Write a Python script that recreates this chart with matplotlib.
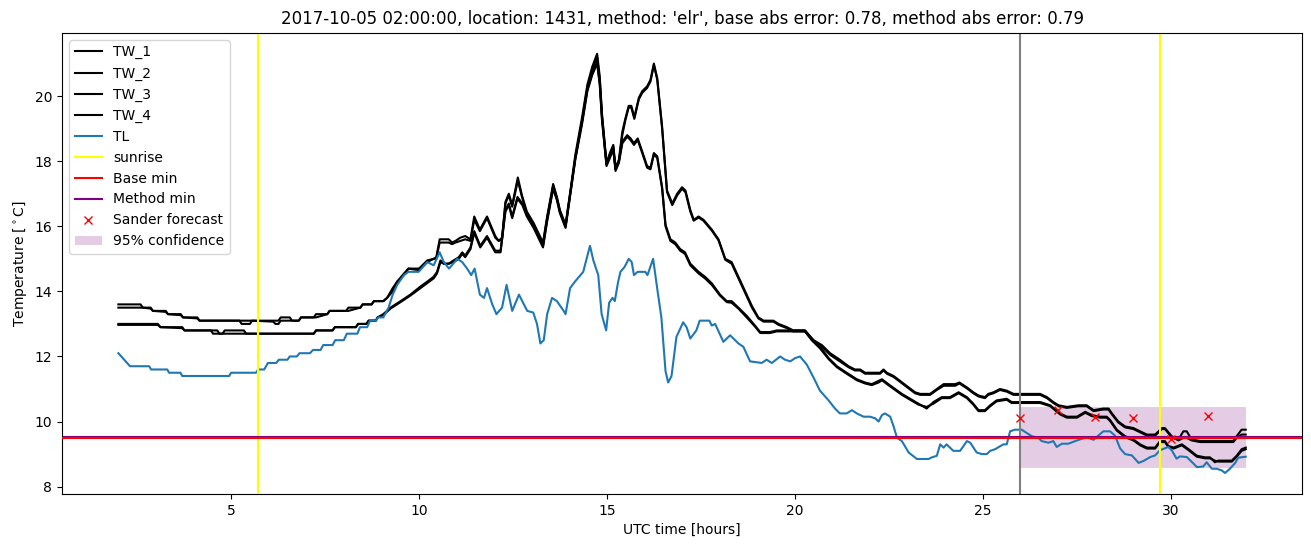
import numpy as np
import matplotlib
matplotlib.use('Agg')
import matplotlib.pyplot as plt

title = "2017-10-05 02:00:00, location: 1431, method: 'elr', base abs error: 0.78, method abs error: 0.79"

# road sensors, two pairs: (hour, TW_1, TW_2) and (hour, TW_3, TW_4)
tw_a = np.array([
    (2.00, 13.6, 13.5), (2.59, 13.6, 13.5), (2.65, 13.5, 13.5), (2.86, 13.5, 13.47),
    (2.92, 13.4, 13.4), (3.26, 13.4, 13.37), (3.32, 13.3, 13.3), (3.66, 13.3, 13.27),
    (3.72, 13.2, 13.2), (4.10, 13.2, 13.17), (4.16, 13.1, 13.1), (5.22, 13.1, 13.1),
    (5.28, 13.1, 13.0), (5.50, 13.1, 13.0), (5.56, 13.1, 13.1), (6.12, 13.1, 13.07),
    (6.18, 13.1, 13.0), (6.26, 13.1, 13.0), (6.32, 13.2, 13.1), (6.56, 13.2, 13.1),
    (6.62, 13.1, 13.1), (6.80, 13.1, 13.1), (6.86, 13.2, 13.2), (7.20, 13.2, 13.2),
    (7.26, 13.3, 13.2), (7.56, 13.3, 13.3), (7.62, 13.4, 13.4), (8.06, 13.4, 13.4),
    (8.12, 13.5, 13.4), (8.44, 13.5, 13.5), (8.50, 13.6, 13.6), (8.74, 13.6, 13.6),
    (8.80, 13.7, 13.7), (9.05, 13.7, 13.7), (9.15, 13.8, 13.8), (9.30, 14.1, 14.0),
    (9.42, 14.3, 14.3), (9.60, 14.55, 14.5), (9.72, 14.7, 14.7), (10.00, 14.7, 14.65),
    (10.22, 14.95, 14.9), (10.39, 15.0, 15.0), (10.46, 15.05, 15.0), (10.55, 15.6, 15.5),
    (10.79, 15.6, 15.5), (10.88, 15.5, 15.45), (10.97, 15.55, 15.5), (11.10, 15.65, 15.55),
    (11.23, 15.7, 15.6), (11.37, 15.6, 15.55), (11.47, 16.3, 16.2), (11.62, 15.9, 15.85),
    (11.81, 16.3, 16.25), (12.03, 15.7, 15.65), (12.12, 15.55, 15.55), (12.21, 15.65, 15.6),
    (12.30, 16.75, 16.7), (12.39, 17.0, 16.95), (12.48, 16.65, 16.6), (12.63, 17.5, 17.4),
    (12.74, 16.95, 16.9), (12.87, 16.45, 16.4), (13.05, 16.1, 16.05), (13.30, 15.5, 15.45),
    (13.41, 16.3, 16.25), (13.57, 17.3, 17.25), (13.67, 16.9, 16.85), (13.75, 16.5, 16.45),
    (13.90, 16.05, 16.0), (14.03, 17.1, 17.05), (14.16, 18.2, 18.1), (14.34, 19.35, 19.25),
    (14.48, 20.35, 20.25), (14.61, 20.9, 20.8), (14.74, 21.3, 21.2), (14.81, 20.6, 20.5),
    (14.87, 19.45, 19.4), (14.99, 17.95, 17.9), (15.08, 18.25, 18.2), (15.17, 18.5, 18.45),
    (15.23, 17.8, 17.75), (15.32, 18.05, 18.0), (15.41, 18.9, 18.8), (15.49, 19.3, 19.25),
    (15.58, 19.7, 19.65), (15.65, 19.7, 19.65), (15.73, 19.35, 19.3), (15.85, 19.95, 19.9),
    (15.94, 20.15, 20.1), (16.07, 20.3, 20.25), (16.16, 20.5, 20.45), (16.25, 21.0, 20.95),
    (16.34, 20.55, 20.5), (16.47, 19.05, 19.0), (16.60, 17.1, 17.05), (16.74, 16.7, 16.65),
    (16.87, 17.0, 16.95), (17.00, 17.2, 17.15), (17.09, 17.1, 17.05), (17.22, 16.5, 16.45),
    (17.31, 16.2, 16.17), (17.44, 16.3, 16.27), (17.57, 16.2, 16.17), (17.79, 15.9, 15.87),
    (17.97, 15.6, 15.57), (18.15, 15.0, 14.97), (18.32, 14.9, 14.85), (18.50, 14.45, 14.4),
    (18.68, 14.0, 13.95), (18.86, 13.55, 13.5), (19.03, 13.2, 13.17), (19.17, 13.1, 13.07),
    (19.43, 13.1, 13.07), (19.57, 13.0, 12.97), (19.79, 12.9, 12.87), (19.96, 12.8, 12.77),
    (20.27, 12.8, 12.77), (20.50, 12.5, 12.47), (20.72, 12.35, 12.3), (20.94, 12.1, 12.05),
    (21.20, 11.9, 11.85), (21.43, 11.7, 11.67), (21.60, 11.6, 11.57), (21.74, 11.6, 11.57),
    (21.87, 11.5, 11.47), (22.27, 11.5, 11.47), (22.36, 11.6, 11.57), (22.45, 11.5, 11.47),
    (22.63, 11.4, 11.37), (22.80, 11.25, 11.22), (23.03, 11.05, 11.02), (23.20, 10.9, 10.87),
    (23.34, 10.85, 10.82), (23.60, 10.85, 10.82), (23.78, 11.0, 10.97), (23.96, 11.15, 11.1),
    (24.27, 11.15, 11.1), (24.38, 11.2, 11.17), (24.58, 11.05, 11.02), (24.75, 10.9, 10.87),
    (24.89, 10.8, 10.77), (25.06, 10.75, 10.72), (25.15, 10.85, 10.82), (25.29, 10.9, 10.87),
    (25.46, 11.0, 10.97), (25.64, 10.95, 10.92), (25.82, 10.85, 10.82), (26.53, 10.85, 10.82),
    (26.71, 10.75, 10.72), (26.88, 10.6, 10.57), (27.02, 10.5, 10.47), (27.24, 10.45, 10.42),
    (27.55, 10.5, 10.47), (27.77, 10.5, 10.47), (27.95, 10.35, 10.32), (28.21, 10.4, 10.37),
    (28.35, 10.4, 10.37), (28.44, 10.25, 10.22), (28.61, 10.0, 9.97), (28.79, 9.85, 9.82),
    (29.01, 9.8, 9.77), (29.19, 9.7, 9.67), (29.37, 9.6, 9.57), (29.59, 9.6, 9.57),
    (29.77, 9.8, 9.77), (29.85, 9.8, 9.77), (30.03, 9.55, 9.52), (30.21, 9.45, 9.42),
    (30.34, 9.7, 9.5), (30.43, 9.7, 9.5), (30.56, 9.45, 9.42), (30.79, 9.4, 9.37),
    (31.67, 9.4, 9.37), (31.76, 9.55, 9.5), (31.89, 9.75, 9.6), (32.00, 9.75, 9.6),
])

tw_b = np.array([
    (2.00, 13.0, 12.97), (3.05, 13.0, 12.97), (3.12, 12.9, 12.9), (3.70, 12.9, 12.87),
    (3.76, 12.8, 12.8), (4.46, 12.8, 12.8), (4.52, 12.7, 12.8), (4.63, 12.7, 12.8),
    (4.69, 12.7, 12.7), (4.77, 12.7, 12.7), (4.83, 12.7, 12.8), (5.34, 12.7, 12.8),
    (5.40, 12.7, 12.7), (7.20, 12.7, 12.7), (7.26, 12.8, 12.8), (7.70, 12.8, 12.8),
    (7.76, 12.9, 12.9), (8.32, 12.9, 12.9), (8.38, 13.0, 13.0), (8.60, 13.0, 13.0),
    (8.66, 13.1, 13.1), (8.85, 13.1, 13.1), (8.90, 13.2, 13.2), (9.05, 13.3, 13.27),
    (9.24, 13.5, 13.47), (9.51, 13.7, 13.67), (9.77, 13.9, 13.87), (10.04, 14.15, 14.1),
    (10.22, 14.3, 14.25), (10.39, 14.45, 14.4), (10.48, 14.6, 14.55), (10.57, 14.95, 14.9),
    (10.66, 14.85, 14.85), (10.79, 14.85, 14.85), (10.92, 14.95, 14.9), (11.06, 15.05, 15.0),
    (11.15, 15.2, 15.15), (11.23, 15.1, 15.05), (11.37, 15.35, 15.3), (11.47, 15.85, 15.8),
    (11.63, 15.4, 15.35), (11.81, 15.7, 15.65), (12.03, 15.25, 15.2), (12.17, 15.25, 15.2),
    (12.30, 16.5, 16.45), (12.39, 16.7, 16.65), (12.48, 16.3, 16.25), (12.62, 16.9, 16.85),
    (12.75, 16.7, 16.65), (12.87, 16.35, 16.3), (13.05, 16.0, 15.95), (13.30, 15.4, 15.35),
    (13.41, 16.2, 16.15), (13.57, 17.2, 17.15), (13.67, 16.85, 16.8), (13.75, 16.45, 16.4),
    (13.90, 16.0, 15.95), (14.03, 17.05, 17.0), (14.16, 18.1, 18.05), (14.34, 19.2, 19.15),
    (14.48, 20.2, 20.15), (14.61, 20.7, 20.65), (14.74, 21.05, 21.0), (14.81, 20.4, 20.35),
    (14.87, 19.3, 19.25), (14.99, 17.9, 17.85), (15.08, 18.15, 18.1), (15.17, 18.4, 18.35),
    (15.23, 17.75, 17.7), (15.32, 18.0, 17.95), (15.41, 18.6, 18.55), (15.54, 18.8, 18.75),
    (15.63, 18.7, 18.65), (15.72, 18.55, 18.5), (15.82, 18.7, 18.65), (15.94, 18.3, 18.25),
    (16.07, 17.85, 17.8), (16.16, 17.8, 17.75), (16.25, 18.25, 18.2), (16.34, 18.15, 18.1),
    (16.47, 17.2, 17.15), (16.56, 16.05, 16.0), (16.69, 15.6, 15.55), (16.82, 15.5, 15.45),
    (16.95, 15.3, 15.25), (17.08, 15.2, 15.15), (17.22, 14.85, 14.8), (17.44, 14.6, 14.55),
    (17.61, 14.45, 14.4), (17.79, 14.25, 14.2), (18.01, 13.9, 13.87), (18.19, 13.7, 13.67),
    (18.32, 13.7, 13.65), (18.50, 13.5, 13.47), (18.72, 13.25, 13.2), (18.94, 12.95, 12.92),
    (19.08, 12.75, 12.72), (19.34, 12.75, 12.72), (19.52, 12.8, 12.77), (20.27, 12.8, 12.77),
    (20.45, 12.55, 12.5), (20.67, 12.3, 12.25), (20.90, 11.95, 11.92), (21.12, 11.7, 11.67),
    (21.38, 11.5, 11.47), (21.65, 11.3, 11.27), (21.87, 11.2, 11.17), (22.05, 11.15, 11.12),
    (22.23, 11.25, 11.2), (22.32, 11.3, 11.27), (22.49, 11.15, 11.12), (22.67, 11.0, 10.97),
    (22.85, 10.85, 10.82), (23.07, 10.7, 10.67), (23.29, 10.55, 10.52), (23.51, 10.4, 10.45),
    (23.69, 10.6, 10.55), (23.91, 10.75, 10.72), (24.13, 10.75, 10.72), (24.36, 10.9, 10.87),
    (24.58, 10.75, 10.72), (24.75, 10.55, 10.52), (24.89, 10.35, 10.32), (25.06, 10.35, 10.32),
    (25.20, 10.5, 10.47), (25.37, 10.65, 10.62), (25.64, 10.7, 10.67), (25.77, 10.6, 10.57),
    (26.53, 10.6, 10.57), (26.80, 10.5, 10.47), (27.06, 10.25, 10.22), (27.24, 10.15, 10.12),
    (27.51, 10.15, 10.12), (27.73, 10.3, 10.27), (27.90, 10.2, 10.17), (28.13, 10.15, 10.12),
    (28.30, 10.15, 10.12), (28.39, 10.05, 10.02), (28.57, 9.75, 9.72), (28.79, 9.55, 9.52),
    (29.01, 9.45, 9.42), (29.19, 9.3, 9.27), (29.37, 9.2, 9.17), (29.59, 9.2, 9.17),
    (29.72, 9.4, 9.37), (29.85, 9.4, 9.37), (29.94, 9.25, 9.22), (30.08, 9.2, 9.17),
    (30.30, 9.3, 9.27), (30.48, 9.15, 9.12), (30.70, 8.95, 8.92), (30.92, 8.9, 8.87),
    (31.05, 8.9, 8.87), (31.18, 8.75, 8.8), (31.27, 8.8, 8.77), (31.63, 8.8, 8.77),
    (31.76, 8.95, 8.92), (31.89, 9.15, 9.1), (32.00, 9.2, 9.15),
])

# air temperature (hour, TL)
tl = np.array([
    (2.00, 12.1), (2.31, 11.7), (2.82, 11.7), (2.87, 11.6), (3.30, 11.6), (3.35, 11.5),
    (3.65, 11.5), (3.70, 11.4), (4.95, 11.4), (5.00, 11.5), (5.66, 11.5), (5.72, 11.6),
    (5.88, 11.6), (5.98, 11.8), (6.20, 11.8), (6.27, 11.9), (6.50, 11.9), (6.56, 12.0),
    (6.75, 12.0), (6.82, 12.1), (7.10, 12.1), (7.18, 12.2), (7.38, 12.2), (7.45, 12.35),
    (7.70, 12.35), (7.77, 12.5), (8.00, 12.5), (8.08, 12.7), (8.36, 12.7), (8.43, 12.9),
    (8.62, 12.9), (8.70, 13.1), (8.85, 13.1), (8.92, 13.2), (9.05, 13.2), (9.19, 13.5),
    (9.30, 13.9), (9.42, 14.2), (9.60, 14.5), (9.72, 14.6), (9.99, 14.6), (10.22, 14.9),
    (10.39, 14.8), (10.55, 15.2), (10.66, 14.9), (10.80, 14.7), (11.02, 15.0), (11.15, 14.9),
    (11.28, 14.7), (11.39, 14.5), (11.48, 14.7), (11.62, 13.9), (11.73, 13.8), (11.81, 14.1),
    (11.95, 13.6), (12.06, 13.3), (12.21, 13.5), (12.33, 14.2), (12.48, 13.4), (12.66, 13.9),
    (12.88, 13.4), (13.04, 13.35), (13.14, 13.0), (13.23, 12.4), (13.32, 12.5), (13.41, 13.3),
    (13.54, 13.8), (13.67, 13.7), (13.85, 13.4), (13.90, 13.3), (14.02, 14.1), (14.15, 14.3),
    (14.37, 14.6), (14.46, 15.0), (14.55, 15.4), (14.64, 14.95), (14.77, 14.5), (14.86, 13.3),
    (14.98, 12.8), (15.06, 13.65), (15.15, 13.8), (15.21, 13.7), (15.30, 14.3), (15.36, 14.6),
    (15.47, 14.75), (15.58, 15.0), (15.66, 14.9), (15.72, 14.5), (15.82, 14.6), (16.02, 14.6),
    (16.08, 14.5), (16.23, 15.0), (16.35, 14.0), (16.45, 13.2), (16.56, 11.55), (16.63, 11.2),
    (16.72, 11.4), (16.85, 12.6), (17.03, 13.05), (17.12, 12.9), (17.22, 12.55), (17.38, 12.8),
    (17.47, 13.1), (17.73, 13.1), (17.79, 12.95), (17.88, 13.0), (18.10, 12.45), (18.28, 12.65),
    (18.50, 12.4), (18.63, 12.3), (18.81, 11.85), (19.12, 11.8), (19.25, 11.9), (19.39, 11.8),
    (19.61, 12.0), (19.74, 11.9), (19.88, 11.85), (20.01, 11.95), (20.14, 12.0), (20.32, 11.75),
    (20.50, 11.35), (20.67, 10.95), (20.90, 10.65), (21.07, 10.4), (21.20, 10.25), (21.38, 10.25),
    (21.52, 10.35), (21.65, 10.25), (21.83, 10.15), (22.00, 10.15), (22.14, 10.1), (22.23, 10.0),
    (22.32, 10.2), (22.40, 10.25), (22.54, 10.15), (22.63, 9.85), (22.72, 9.5), (22.85, 9.4),
    (23.03, 9.05), (23.25, 8.85), (23.56, 8.85), (23.65, 8.9), (23.78, 8.95), (23.87, 9.3),
    (23.96, 9.2), (24.04, 9.3), (24.22, 9.1), (24.40, 9.1), (24.58, 9.4), (24.67, 9.35),
    (24.84, 9.05), (24.98, 9.0), (25.11, 9.0), (25.20, 9.1), (25.33, 9.15), (25.55, 9.3),
    (25.64, 9.3), (25.73, 9.7), (25.86, 9.75), (26.04, 9.75), (26.17, 9.65), (26.31, 9.55),
    (26.48, 9.5), (26.57, 9.4), (26.75, 9.35), (26.88, 9.4), (26.97, 9.22), (27.11, 9.32),
    (27.28, 9.32), (27.51, 9.42), (27.77, 9.52), (27.95, 9.44), (28.08, 9.57), (28.21, 9.7),
    (28.39, 9.7), (28.52, 9.57), (28.66, 9.17), (28.79, 9.0), (28.97, 8.96), (29.15, 8.73),
    (29.28, 8.79), (29.46, 8.91), (29.59, 8.96), (29.72, 9.12), (29.94, 9.22), (30.03, 9.12),
    (30.16, 8.86), (30.25, 8.93), (30.43, 8.91), (30.61, 8.71), (30.70, 8.6), (30.87, 8.62),
    (30.96, 8.75), (31.10, 8.55), (31.23, 8.55), (31.36, 8.5), (31.45, 8.42), (31.58, 8.55),
    (31.72, 8.73), (31.80, 8.89), (32.00, 8.92),
])

sunrise = [5.72, 29.72]
forecast_start = 26.0
base_min = 9.49
method_min = 9.53
sander_t = [26, 27, 28, 29, 30, 31]
sander_v = [10.12, 10.36, 10.14, 10.12, 9.47, 10.18]
conf_t = [26, 32]
conf_lo = [8.56, 8.56]
conf_hi = [10.44, 10.44]

fig, ax = plt.subplots(figsize=(13.11, 5.47), dpi=100)
fig.subplots_adjust(left=0.0473, right=0.9932, top=0.94, bottom=0.097)

ax.plot(tw_a[:, 0], tw_a[:, 1], color='black', label='TW_1')
ax.plot(tw_a[:, 0], tw_a[:, 2], color='black', label='TW_2')
ax.plot(tw_b[:, 0], tw_b[:, 1], color='black', label='TW_3')
ax.plot(tw_b[:, 0], tw_b[:, 2], color='black', label='TW_4')
ax.plot(tl[:, 0], tl[:, 1], color='C0', label='TL')

ax.axvline(sunrise[0], color='yellow', label='sunrise')
ax.axvline(sunrise[1], color='yellow')
ax.axvline(forecast_start, color='gray')
# red sits over the purple one, only a sliver of purple shows on top
ax.axhline(base_min, color='red', zorder=2.6, label='Base min')
ax.axhline(method_min, color='purple', label='Method min')
ax.plot(sander_t, sander_v, 'rx', label='Sander forecast')
ax.fill_between(conf_t, conf_lo, conf_hi, color='purple', alpha=0.2, lw=0,
                label='95% confidence')

ax.set_title(title)
ax.set_xlabel('UTC time [hours]')
ax.set_ylabel(r'Temperature [$^\circ$C]')
ax.legend(loc='upper left')

plt.savefig('out.png')
